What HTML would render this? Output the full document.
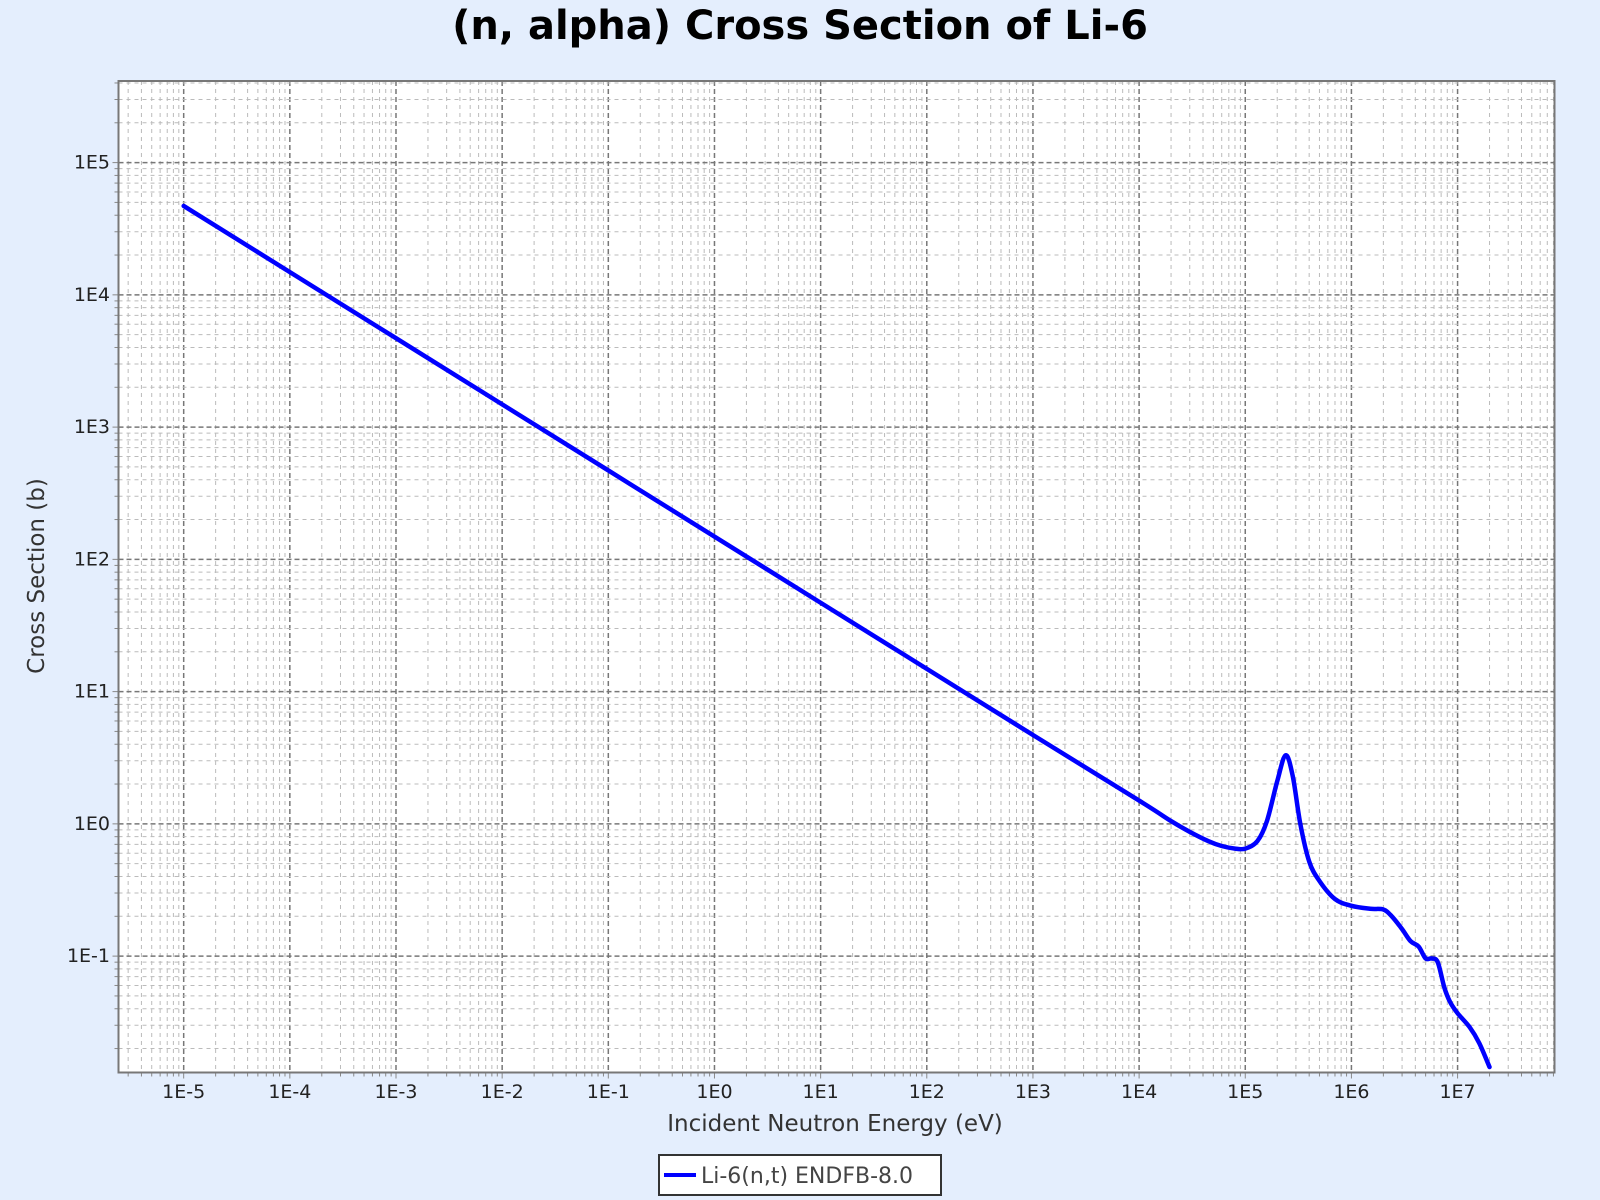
<!DOCTYPE html>
<html><head><meta charset="utf-8"><style>
html,body{margin:0;padding:0;background:#e4eefd;}
svg{display:block;font-family:"Liberation Sans","DejaVu Sans",sans-serif;}
</style></head><body>
<svg id="chart" width="1600" height="1200">
<rect x="0" y="0" width="1600" height="1200" fill="#e4eefd"/>
<text x="800" y="39" text-anchor="middle" font-size="40" font-weight="bold" font-family="DejaVu Sans, sans-serif" fill="#000">(n, alpha) Cross Section of Li-6</text>
<rect x="118.5" y="81" width="1436" height="991.5" fill="#fff"/>
<g id="grid"></g>
<g id="ticks"></g>
<path id="series" fill="none" stroke="#0000ff" stroke-width="4.5" stroke-linejoin="round" stroke-linecap="round"/>
<rect x="118.5" y="81" width="1436" height="991.5" fill="none" stroke="#777" stroke-width="2"/>
<text x="835" y="1131" text-anchor="middle" font-size="23" font-family="DejaVu Sans, sans-serif" fill="#333">Incident Neutron Energy (eV)</text>
<text transform="translate(44,576) rotate(-90)" text-anchor="middle" font-size="23" font-family="DejaVu Sans, sans-serif" fill="#333">Cross Section (b)</text>
<g>
<rect x="659" y="1155" width="282" height="40" fill="#fff" stroke="#333" stroke-width="2"/>
<line x1="664" y1="1175" x2="696" y2="1175" stroke="#0000ff" stroke-width="4"/>
<text x="701" y="1183" font-size="22" font-family="DejaVu Sans, sans-serif" fill="#444">Li-6(n,t) ENDFB-8.0</text>
</g>
</svg>
<script>
const energies = [1e-5,1e-3,1e-1,1e1,1e3,1e4,2e4,3e4,4.5e4,6e4,8e4,1e5,1.3e5,1.6e5,2e5,2.4e5,2.8e5,3.3e5,4e5,5e5,7e5,1e6,1.5e6,2e6,2.4e6,3e6,3.6e6,4.3e6,5e6,5.7e6,6.5e6,7.5e6,8.5e6,1e7,1.3e7,1.6e7,2e7];
const crossSections = [4.7e4,4.7e3,470,47,4.7,1.5,1.05,0.87,0.74,0.68,0.65,0.65,0.74,1.05,2.1,3.3,2.3,1.0,0.52,0.37,0.27,0.24,0.228,0.225,0.2,0.16,0.13,0.118,0.096,0.096,0.09,0.058,0.045,0.037,0.029,0.022,0.0145];
const xTickLabels = ["1E-5","1E-4","1E-3","1E-2","1E-1","1E0","1E1","1E2","1E3","1E4","1E5","1E6","1E7"];
const yTickLabels = ["1E-1","1E0","1E1","1E2","1E3","1E4","1E5"];

const L=118.5,R=1554.5,T=81,B=1072.5;
const xMinL=-5.614,xMaxL=7.913,yMinL=-1.88,yMaxL=5.617;
const xs=v=>L+(Math.log10(v)-xMinL)/(xMaxL-xMinL)*(R-L);
const ys=v=>B-(Math.log10(v)-yMinL)/(yMaxL-yMinL)*(B-T);
const NS="http://www.w3.org/2000/svg";
const grid=document.getElementById('grid'), ticks=document.getElementById('ticks');
function ln(p,x1,y1,x2,y2,st,w,d){const l=document.createElementNS(NS,'line');l.setAttribute('x1',x1);l.setAttribute('y1',y1);l.setAttribute('x2',x2);l.setAttribute('y2',y2);l.setAttribute('stroke',st);l.setAttribute('stroke-width',w);if(d)l.setAttribute('stroke-dasharray',d);p.appendChild(l);return l;}
for(let e=-6;e<=8;e++){for(let m=1;m<10;m++){const lv=e+Math.log10(m);if(lv<xMinL||lv>xMaxL)continue;const x=L+(lv-xMinL)/(xMaxL-xMinL)*(R-L);
const g=ln(grid,x,T,x,B,m===1?'#777':'#bbb',m===1?1.5:1,m===1?'5,3':'4,4');


const t=ln(ticks,x,B,x,B+(m===1?6:4),'#888',1);

}}
for(let e=-2;e<=6;e++){for(let m=1;m<10;m++){const lv=e+Math.log10(m);if(lv<yMinL||lv>yMaxL)continue;const y=B-(lv-yMinL)/(yMaxL-yMinL)*(B-T);
const g=ln(grid,L,y,R,y,m===1?'#777':'#bbb',m===1?1.5:1,m===1?'5,3':'4,4');


const t=ln(ticks,L-(m===1?6:4),y,L,y,'#888',1);

}}
const svg=document.getElementById('chart');
xTickLabels.forEach((s,i)=>{const t=document.createElementNS(NS,'text');const v=Math.pow(10,-5+i);
t.setAttribute('x',xs(v));t.setAttribute('y',1098);t.setAttribute('text-anchor','middle');t.setAttribute('font-size','19');t.setAttribute('font-family','DejaVu Sans, sans-serif');t.setAttribute('fill','#222');t.textContent=s;


svg.appendChild(t);});
yTickLabels.forEach((s,i)=>{const t=document.createElementNS(NS,'text');const v=Math.pow(10,-1+i);
t.setAttribute('x',110);t.setAttribute('y',ys(v)+6);t.setAttribute('text-anchor','end');t.setAttribute('font-size','19');t.setAttribute('font-family','DejaVu Sans, sans-serif');t.setAttribute('fill','#222');t.textContent=s;


svg.appendChild(t);});
const pts=energies.map((e,i)=>[xs(e),ys(crossSections[i])]);
let d='M'+pts[0][0]+','+pts[0][1];
for(let i=0;i<pts.length-1;i++){const p0=pts[Math.max(0,i-1)],p1=pts[i],p2=pts[i+1],p3=pts[Math.min(pts.length-1,i+2)];
const c1=[p1[0]+(p2[0]-p0[0])/6,p1[1]+(p2[1]-p0[1])/6],c2=[p2[0]-(p3[0]-p1[0])/6,p2[1]-(p3[1]-p1[1])/6];
d+=' C'+c1[0]+','+c1[1]+' '+c2[0]+','+c2[1]+' '+p2[0]+','+p2[1];}
document.getElementById('series').setAttribute('d',d);
</script>
</body></html>
